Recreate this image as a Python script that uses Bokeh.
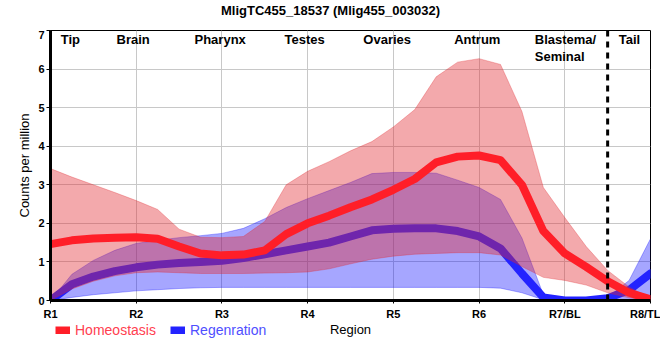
from bokeh.plotting import figure
from bokeh.layouts import column
from bokeh.models import Range1d, FixedTicker, Span, Label, Legend, LegendItem
from bokeh.embed import file_html
from bokeh.resources import INLINE

# ---- data ----
positions = [1.0, 1.25, 1.5, 1.75, 2.0, 2.25, 2.5, 2.75, 3.0, 3.25, 3.5, 3.75, 4.0, 4.25,
             4.5, 4.75, 5.0, 5.25, 5.5, 5.75, 6.0, 6.25, 6.5, 6.75, 7.0, 7.25, 7.5, 7.75, 8.0]

homeo_mean = [1.46, 1.56, 1.61, 1.63, 1.64, 1.60, 1.40, 1.22, 1.17, 1.19, 1.30, 1.72, 2.00, 2.20,
              2.42, 2.62, 2.87, 3.15, 3.58, 3.73, 3.76, 3.64, 3.00, 1.80, 1.22, 0.87, 0.50, 0.20, 0.03]
homeo_upper = [3.42, 3.20, 3.00, 2.80, 2.59, 2.36, 1.85, 1.64, 1.63, 1.66, 2.05, 3.00, 3.35, 3.60,
               3.88, 4.12, 4.50, 4.95, 5.80, 6.18, 6.27, 6.12, 4.90, 2.93, 2.15, 1.40, 0.78, 0.35, 0.05]
homeo_lower = [0.00, 0.30, 0.50, 0.64, 0.72, 0.74, 0.72, 0.70, 0.70, 0.70, 0.71, 0.72, 0.74, 0.82,
               0.95, 1.07, 1.15, 1.20, 1.22, 1.24, 1.24, 1.18, 0.88, 0.60, 0.52, 0.40, 0.20, 0.07, 0.00]

regen_mean = [0.00, 0.42, 0.62, 0.76, 0.86, 0.93, 0.97, 1.00, 1.03, 1.10, 1.20, 1.30, 1.40, 1.50,
              1.66, 1.82, 1.86, 1.87, 1.87, 1.80, 1.66, 1.35, 0.70, 0.08, 0.00, 0.00, 0.06, 0.27, 0.70]
regen_upper = [0.00, 0.68, 1.04, 1.30, 1.48, 1.56, 1.63, 1.68, 1.74, 1.87, 2.12, 2.41, 2.64, 2.85,
               3.06, 3.29, 3.32, 3.32, 3.30, 3.12, 2.93, 2.62, 1.62, 0.15, 0.05, 0.05, 0.08, 0.52, 1.60]
regen_lower = [0.00, 0.08, 0.15, 0.20, 0.25, 0.28, 0.31, 0.33, 0.34, 0.34, 0.34, 0.34, 0.34, 0.34,
               0.34, 0.34, 0.34, 0.34, 0.34, 0.34, 0.34, 0.32, 0.20, 0.02, 0.00, 0.00, 0.00, 0.00, 0.00]

x_ticks = [1, 2, 3, 4, 5, 6, 7, 8]
x_tick_labels = ["R1", "R2", "R3", "R4", "R5", "R6", "R7/BL", "R8/TL"]
y_ticks = [0, 1, 2, 3, 4, 5, 6, 7]

region_names = ["Tip", "Brain", "Pharynx", "Testes", "Ovaries", "Antrum", "Blastema/\nSeminal", "Tail"]
region_left = [1.12, 1.77, 2.68, 3.73, 4.65, 5.71, 6.65, 7.63]
tail_boundary = 7.5

series_names = ["Homeostasis", "Regenration"]
chart_title = "MligTC455_18537 (Mlig455_003032)"

FONT = "Liberation Sans"
RED_FILL = "#E0282F"
BLUE_FILL = "#0000FF"
RED_LINE = "#FF1E28"
BLUE_LINE = "#2323FF"


def strip(height):
    """A frameless, axis-less band whose frame is aligned with the main frame."""
    s = figure(width=660, height=height, x_range=Range1d(0, 600), y_range=Range1d(0, height),
               output_backend="svg", toolbar_location=None,
               x_axis_location=None, y_axis_location=None,
               min_border_left=0, min_border_right=0, min_border_top=0, min_border_bottom=0)
    s.grid.visible = False
    s.outline_line_color = None
    s.background_fill_color = "white"
    s.border_fill_color = "white"
    return s


# ---------------- title strip ----------------
p0 = strip(30)
p0.add_layout(Label(x=280, y=20, x_units="screen", y_units="screen", text=chart_title,
                    text_align="center", text_baseline="middle", text_font=FONT,
                    text_font_style="bold", text_font_size="13px", text_color="black"))

# ---------------- main chart ----------------
p = figure(width=660, height=292, x_range=Range1d(1, 8), y_range=Range1d(0, 7),
           output_backend="svg", toolbar_location=None,
           min_border_left=50, min_border_right=10, min_border_top=0, min_border_bottom=22)
p.background_fill_color = "white"
p.border_fill_color = "white"
p.outline_line_color = "black"
p.outline_line_width = 1

# axes
p.xaxis.ticker = FixedTicker(ticks=x_ticks)
p.xaxis.major_label_overrides = {t: l for t, l in zip(x_ticks, x_tick_labels)}
p.yaxis.ticker = FixedTicker(ticks=y_ticks)
for ax in (p.xaxis, p.yaxis):
    ax.axis_line_width = 3
    ax.axis_line_color = "black"
    ax.major_tick_line_color = "black"
    ax.minor_tick_line_color = None
    ax.major_tick_in = 0
    ax.major_label_text_font = FONT
    ax.major_label_text_font_style = "bold"
    ax.major_label_text_font_size = "11px"
    ax.major_label_text_color = "black"
    ax.axis_label_text_font = FONT
    ax.axis_label_text_font_style = "normal"
    ax.axis_label_text_font_size = "13px"
    ax.axis_label_text_color = "black"
p.xaxis.major_tick_out = 3
p.xaxis.major_label_standoff = 4
p.yaxis.major_tick_out = 4
p.yaxis.major_label_standoff = 2
p.yaxis.axis_label = "Counts per million"
p.yaxis.axis_label_standoff = 3

p.xgrid.ticker = FixedTicker(ticks=x_ticks)
p.ygrid.ticker = FixedTicker(ticks=y_ticks)
p.grid.grid_line_color = "#C8C8C8"
p.grid.grid_line_width = 1

# regeneration band + line
p.varea(x=positions, y1=regen_lower, y2=regen_upper, fill_color=BLUE_FILL, fill_alpha=0.35)
p.line(positions, regen_upper, line_color=BLUE_FILL, line_alpha=0.3, line_width=1)
p.line(positions, regen_lower, line_color=BLUE_FILL, line_alpha=0.3, line_width=1)
p.line(positions, regen_mean, line_color=BLUE_LINE, line_width=8,
       line_join="round", line_cap="round")

# homeostasis band + line
p.varea(x=positions, y1=homeo_lower, y2=homeo_upper, fill_color=RED_FILL, fill_alpha=0.4)
p.line(positions, homeo_upper, line_color=RED_FILL, line_alpha=0.3, line_width=1)
p.line(positions, homeo_lower, line_color=RED_FILL, line_alpha=0.3, line_width=1)
p.line(positions, homeo_mean, line_color=RED_LINE, line_width=8,
       line_join="round", line_cap="round")

# tail boundary
p.add_layout(Span(location=tail_boundary, dimension="height", line_color="black",
                  line_width=3, line_dash="6 5"))

# region names
for name, xl in zip(region_names, region_left):
    p.add_layout(Label(x=xl, y=6.96, text=name, text_align="left", text_baseline="top",
                       text_font=FONT, text_font_style="bold", text_font_size="13px",
                       text_color="black", text_line_height=1.15))

# ---------------- legend / axis-title strip ----------------
p2 = strip(38)
p2.add_layout(Label(x=300, y=31, x_units="screen", y_units="screen", text="Region",
                    text_align="center", text_baseline="middle", text_font=FONT,
                    text_font_size="13px", text_color="black"))

swatches = [p2.line(positions, homeo_mean, line_color=RED_LINE, line_width=8, visible=False),
            p2.line(positions, regen_mean, line_color=BLUE_LINE, line_width=8, visible=False)]
leg_colors = ["#FF4050", "#4F4FFF"]
leg_x = [5, 120]
for rend, lab, col, lx in zip(swatches, series_names, leg_colors, leg_x):
    lg = Legend(items=[LegendItem(label=lab, renderers=[rend])], location=(lx, 22),
                label_text_color=col, label_text_font=FONT, label_text_font_size="14px",
                glyph_width=15, glyph_height=8, label_standoff=5, padding=0, margin=0,
                spacing=0, background_fill_alpha=0, border_line_alpha=0,
                label_height=16)
    p2.add_layout(lg, "center")

open("out.html", "w").write(file_html(column(p0, p, p2, spacing=0), INLINE))
